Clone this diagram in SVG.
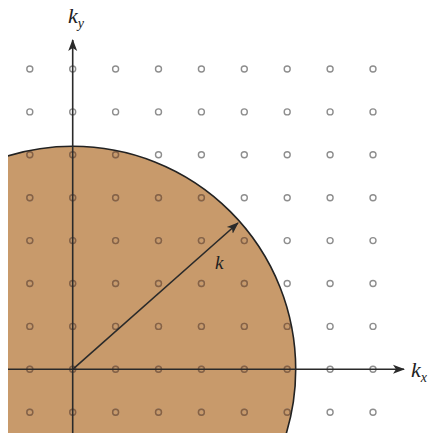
<svg xmlns="http://www.w3.org/2000/svg" xmlns:xlink="http://www.w3.org/1999/xlink" width="428" height="435" viewBox="0 0 428 435">
<style>
.lbl{font-family:"Liberation Serif","DejaVu Serif",serif;font-style:italic;fill:#222}
.ax{stroke:#2a2a2a;stroke-width:1.6;fill:none}
</style>
<defs>
<clipPath id="box"><rect x="8" y="0" width="420" height="433"/></clipPath>
<clipPath id="disc"><circle cx="72.7" cy="369.3" r="223"/></clipPath>
<marker id="ah" viewBox="0 0 12 10" refX="11" refY="5" markerWidth="12" markerHeight="10" markerUnits="userSpaceOnUse" orient="auto">
<path d="M0,0.5 L12,5 L0,9.5 L3,5 Z" fill="#2a2a2a"/>
</marker>
<g id="grid" fill="none" stroke-width="1.4">
<g id="row"><circle cx="29.8" cy="0" r="3"/><circle cx="72.7" cy="0" r="3"/><circle cx="115.6" cy="0" r="3"/><circle cx="158.5" cy="0" r="3"/><circle cx="201.4" cy="0" r="3"/><circle cx="244.3" cy="0" r="3"/><circle cx="287.2" cy="0" r="3"/><circle cx="330.1" cy="0" r="3"/><circle cx="373" cy="0" r="3"/></g>
</g>
<g id="lat" fill="none" stroke-width="1.4">
<use xlink:href="#row" href="#row" y="69"/>
<use xlink:href="#row" href="#row" y="111.9"/>
<use xlink:href="#row" href="#row" y="154.8"/>
<use xlink:href="#row" href="#row" y="197.7"/>
<use xlink:href="#row" href="#row" y="240.6"/>
<use xlink:href="#row" href="#row" y="283.5"/>
<use xlink:href="#row" href="#row" y="326.4"/>
<use xlink:href="#row" href="#row" y="369.3"/>
<use xlink:href="#row" href="#row" y="412.2"/>
</g>
</defs>
<rect width="428" height="435" fill="#ffffff"/>
<g id="region" clip-path="url(#box)">
<circle cx="72.7" cy="369.3" r="223" fill="#c89a6b"/>
</g>
<g id="lattice">
<use xlink:href="#lat" href="#lat" stroke="#8e8e8e"/>
</g>
<g id="lattice-in" clip-path="url(#box)">
<g clip-path="url(#disc)"><use xlink:href="#lat" href="#lat" stroke="#8a6140"/></g>
</g>
<g id="boundary" clip-path="url(#box)">
<circle cx="72.7" cy="369.3" r="223" fill="none" stroke="#222" stroke-width="1.6"/>
</g>
<g id="connectors">
<line class="ax" x1="8" y1="369.3" x2="404" y2="369.3" marker-end="url(#ah)"/>
<line class="ax" x1="72.7" y1="433" x2="72.7" y2="40" marker-end="url(#ah)"/>
<line class="ax" x1="72.7" y1="369.3" x2="238" y2="223" marker-end="url(#ah)"/>
</g>
<g id="labels">
<text class="lbl" x="68" y="23" font-size="22">k<tspan font-size="14" dy="5">y</tspan></text>
<text class="lbl" x="411" y="377" font-size="22">k<tspan font-size="14" dy="5">x</tspan></text>
<text class="lbl" x="215" y="269" font-size="19">k</text>
</g>
</svg>
